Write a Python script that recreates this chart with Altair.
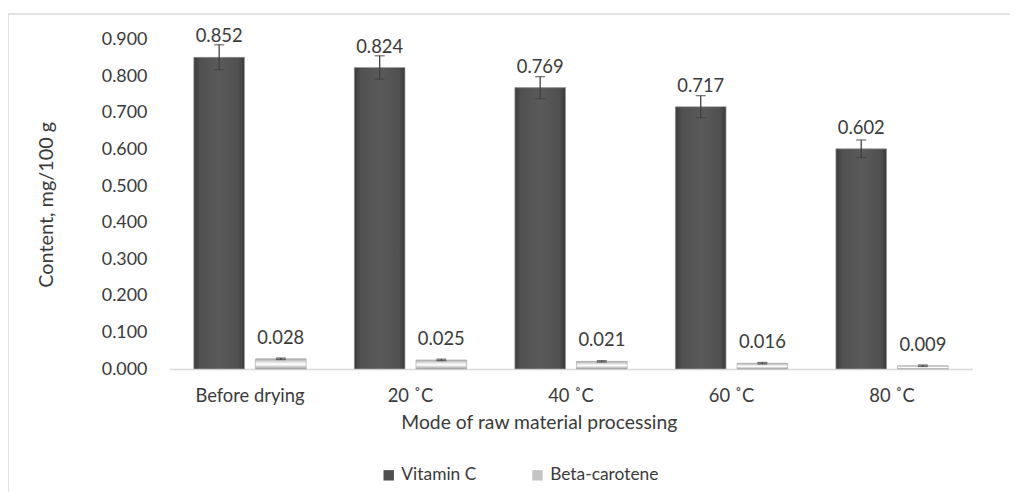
import altair as alt
import pandas as pd

categories = ["Before drying", "20 ˚C", "40 ˚C", "60 ˚C", "80 ˚C"]
series = ["Vitamin C", "Beta-carotene"]
vitamin_c = [0.852, 0.824, 0.769, 0.717, 0.602]
vitamin_c_err = [0.034, 0.032, 0.030, 0.030, 0.024]
beta_carotene = [0.028, 0.025, 0.021, 0.016, 0.009]
beta_carotene_err = [0.002, 0.002, 0.002, 0.002, 0.002]
y_ticks = [0.0, 0.1, 0.2, 0.3, 0.4, 0.5, 0.6, 0.7, 0.8, 0.9]

rows = []
for i, c in enumerate(categories):
    rows.append({"category": c, "series": series[0], "value": vitamin_c[i], "err": vitamin_c_err[i]})
    rows.append({"category": c, "series": series[1], "value": beta_carotene[i], "err": beta_carotene_err[i]})
df = pd.DataFrame(rows)
df["lower"] = df["value"] - df["err"]
df["upper"] = df["value"] + df["err"]
df["label"] = df["value"].map(lambda v: f"{v:.3f}")

FONT = "Lato"
TXT = "#3a3a3a"

x_axis = alt.Axis(
    title="Mode of raw material processing",
    labelAngle=0,
    ticks=False,
    grid=False,
    domainColor="#d9d9d9",
    domainWidth=1.5,
    labelPadding=18,
    labelFontSize=18.5,
    labelColor=TXT,
    labelOverlap=False,
    titleFontSize=19.5,
    titleFontWeight="normal",
    titleColor=TXT,
    titleX=372,
    titleY=54,
    titleBaseline="middle",
)
x_enc = alt.X(
    "category:N",
    sort=categories,
    scale=alt.Scale(paddingInner=0.3, paddingOuter=0.15),
    axis=x_axis,
)
xoff_enc = alt.XOffset(
    "series:N",
    sort=series,
    scale=alt.Scale(domain=series, paddingInner=0.177, paddingOuter=0),
)
y_scale = alt.Scale(domain=[0, 0.9], nice=False, zero=True)
y_axis = alt.Axis(
    title="Content, mg/100 g",
    values=y_ticks,
    tickCount=10,
    format=".3f",
    grid=False,
    ticks=False,
    domain=False,
    labelOverlap=False,
    labelPadding=23,
    labelFontSize=18,
    labelColor=TXT,
    titleFontSize=20,
    titleFontWeight="normal",
    titleColor=TXT,
    titleX=-124,
    titleY=166,
    titleAngle=-90,
    titleBaseline="middle",
)
y_enc = alt.Y("value:Q", scale=y_scale, axis=y_axis)

base = alt.Chart(df)

legend_bars = base.mark_bar().encode(
    x=x_enc,
    xOffset=xoff_enc,
    y=y_enc,
    color=alt.Color(
        "series:N",
        sort=series,
        scale=alt.Scale(domain=series, range=["#4f4f4f", "#c4c4c4"]),
        legend=alt.Legend(
            title=None,
            orient="none",
            legendX=212,
            legendY=430,
            direction="horizontal",
            symbolType="square",
            symbolSize=110,
            symbolStrokeWidth=0,
            labelFontSize=17.5,
            labelColor=TXT,
            labelFont=FONT,
            columnPadding=52,
            labelOffset=4,
        ),
    ),
)

grad_dark = alt.Gradient(
    gradient="linear", x1=0, x2=1, y1=0, y2=0,
    stops=[
        alt.GradientStop(offset=0, color="#3a3a3a"),
        alt.GradientStop(offset=0.12, color="#505050"),
        alt.GradientStop(offset=0.5, color="#5a5a5a"),
        alt.GradientStop(offset=0.88, color="#505050"),
        alt.GradientStop(offset=1, color="#3a3a3a"),
    ],
)
grad_light = alt.Gradient(
    gradient="linear", x1=0, x2=0, y1=0, y2=1,
    stops=[
        alt.GradientStop(offset=0, color="#a8a8a8"),
        alt.GradientStop(offset=0.35, color="#e6e6e6"),
        alt.GradientStop(offset=0.55, color="#ffffff"),
        alt.GradientStop(offset=1, color="#9a9a9a"),
    ],
)

dark_bars = base.transform_filter(alt.datum.series == series[0]).mark_bar(
    color=grad_dark, stroke="#bdbdbd", strokeWidth=0.6
).encode(x=x_enc, xOffset=xoff_enc, y=y_enc)

light_bars = base.transform_filter(alt.datum.series == series[1]).mark_bar(
    color=grad_light, stroke="#b0b0b0", strokeWidth=0.6
).encode(x=x_enc, xOffset=xoff_enc, y=y_enc)

err_rule = base.mark_rule(color="#404040", strokeWidth=1.3).encode(
    x=x_enc, xOffset=xoff_enc, y=alt.Y("lower:Q", scale=y_scale, axis=y_axis), y2="upper:Q"
)
cap_top = base.mark_tick(color="#404040", thickness=1.3, size=10, orient="horizontal").encode(
    x=x_enc, xOffset=xoff_enc, y=alt.Y("upper:Q", scale=y_scale, axis=y_axis)
)
cap_bot = base.mark_tick(color="#404040", thickness=1.3, size=10, orient="horizontal").encode(
    x=x_enc, xOffset=xoff_enc, y=alt.Y("lower:Q", scale=y_scale, axis=y_axis)
)

labels = base.mark_text(dy=-15, baseline="alphabetic", fontSize=18.5, font=FONT, color=TXT).encode(
    x=x_enc, xOffset=xoff_enc, y=y_enc, text="label:N"
)

frame_df = pd.DataFrame({"a": [0]})
frame_left = alt.Chart(frame_df).mark_rule(color="#d9d9d9", strokeWidth=1.5).encode(
    x=alt.value(-163), y=alt.value(-26), y2=alt.value(460)
)
frame_top = alt.Chart(frame_df).mark_rule(color="#d9d9d9", strokeWidth=1.5).encode(
    x=alt.value(-163), x2=alt.value(900), y=alt.value(-26)
)

chart = (
    alt.layer(frame_left, frame_top, legend_bars, dark_bars, light_bars, err_rule, cap_top, cap_bot, labels)
    .properties(
        width=809,
        height=332,
        autosize=alt.AutoSizeParams(type="none"),
        padding={"left": 163, "top": 30, "right": 38, "bottom": 122},
    )
    .configure(font=FONT)
    .configure_view(strokeWidth=0, stroke="transparent")
    .configure_axis(labelFont=FONT, titleFont=FONT, grid=False)
)

chart.save("out.html", embed_options={"renderer": "svg", "actions": False})
